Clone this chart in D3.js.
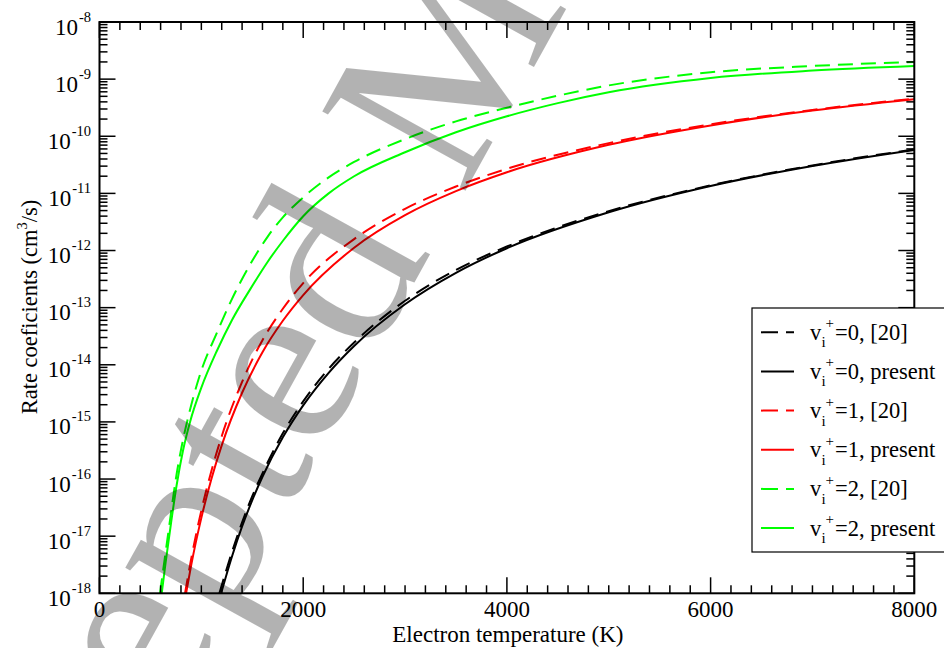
<!DOCTYPE html>
<html><head><meta charset="utf-8">
<script src="https://cdn.jsdelivr.net/npm/d3@7"></script>
<style>
body{margin:0;background:#fff}
svg text{font-family:"Liberation Serif","DejaVu Serif",serif}
</style>
</head><body>
<svg id="chart" width="944" height="648" font-family="Liberation Serif, DejaVu Serif, serif"></svg>
<script>
// ---------- data ----------
const xTickValues = [0, 2000, 4000, 6000, 8000];
const yExponents = [-18, -17, -16, -15, -14, -13, -12, -11, -10, -9, -8];

// v_i+=0  (log10 of rate, cm^3/s)
const tempV0Ref     = [1177, 1300, 1400, 1500, 1600, 1800, 2000, 2250, 2500, 3000, 3500, 4000, 5000, 6000, 7000, 8000];
const logV0Ref      = [-18, -17.28, -16.76, -16.30, -15.90, -15.20, -14.64, -14.07, -13.61, -12.88, -12.34, -11.93, -11.31, -10.86, -10.51, -10.23];
const tempV0Present = [1194, 1300, 1400, 1500, 1600, 1800, 2000, 2250, 2500, 3000, 3500, 4000, 5000, 6000, 7000, 8000];
const logV0Present  = [-18, -17.36, -16.83, -16.37, -15.96, -15.27, -14.71, -14.14, -13.67, -12.94, -12.39, -11.96, -11.33, -10.87, -10.52, -10.24];
// v_i+=1
const tempV1Ref     = [840, 900, 1000, 1100, 1200, 1400, 1600, 1800, 2000, 2500, 3000, 3500, 4000, 5000, 6000, 7000, 8000];
const logV1Ref      = [-18, -17.40, -16.55, -15.85, -15.25, -14.30, -13.57, -13.02, -12.57, -11.80, -11.27, -10.88, -10.57, -10.12, -9.79, -9.54, -9.34];
const tempV1Present = [850, 900, 1000, 1100, 1200, 1400, 1600, 1800, 2000, 2500, 3000, 3500, 4000, 5000, 6000, 7000, 8000];
const logV1Present  = [-18, -17.51, -16.68, -15.99, -15.41, -14.49, -13.78, -13.23, -12.78, -11.95, -11.38, -10.96, -10.63, -10.15, -9.81, -9.55, -9.35];
// v_i+=2
const tempV2Ref     = [594, 640, 690, 745, 810, 880, 1000, 1150, 1300, 1500, 1650, 1800, 2000, 2250, 2500, 3000, 3500, 4000, 4500, 5000, 6000, 7000, 8000];
const logV2Ref      = [-18, -17.40, -16.75, -16.05, -15.40, -14.85, -14.10, -13.45, -12.85, -12.18, -11.76, -11.42, -11.07, -10.72, -10.45, -10.05, -9.74, -9.50, -9.29, -9.11, -8.88, -8.77, -8.70];
const tempV2Present = [611, 650, 700, 758, 820, 889, 1000, 1154, 1300, 1479, 1650, 1805, 2000, 2250, 2500, 3000, 3500, 4000, 4500, 5000, 6000, 7000, 8000];
const logV2Present  = [-18, -17.45, -16.80, -16.10, -15.50, -15.00, -14.40, -13.75, -13.22, -12.68, -12.20, -11.82, -11.40, -11.00, -10.70, -10.28, -9.93, -9.65, -9.42, -9.23, -8.98, -8.85, -8.77];

const legendValues = ["0", "0", "1", "1", "2", "2"];
const legendTails  = ["[20]", "present", "[20]", "present", "[20]", "present"];
const xTitle = "Electron temperature (K)";
const yTitle = "Rate coeficients (cm";
const watermarkText = "Accepted Manuscript";

// ---------- build ----------
const series = [
  {T: tempV0Ref, lk: logV0Ref, color: "#000000", dash: true},
  {T: tempV0Present, lk: logV0Present, color: "#000000", dash: false},
  {T: tempV1Ref, lk: logV1Ref, color: "#ff0000", dash: true},
  {T: tempV1Present, lk: logV1Present, color: "#ff0000", dash: false},
  {T: tempV2Ref, lk: logV2Ref, color: "#00ff00", dash: true},
  {T: tempV2Present, lk: logV2Present, color: "#00ff00", dash: false}
];

const svg = d3.select("#chart");
const L = 99.5, R = 914.3, T0 = 22, B = 593.3;
const x = d3.scaleLinear().domain([0, 8000]).range([L, R]);
const y = d3.scaleLog().domain([1e-18, 1e-8]).range([B, T0]);

svg.append("rect").attr("width", 944).attr("height", 648).attr("fill", "#fff");
svg.append("defs").append("clipPath").attr("id", "clip")
  .append("rect").attr("x", L).attr("y", T0).attr("width", R - L).attr("height", B - T0);

// curves
const line = d3.line().x(d => x(d[0])).y(d => y(d[1])).curve(d3.curveMonotoneX);
const gCurves = svg.append("g").attr("clip-path", "url(#clip)");
series.forEach(s => {
  const pts = s.T.map((t, i) => [t, Math.pow(10, s.lk[i])]);
  gCurves.append("path").attr("d", line(pts)).attr("fill", "none")
    .attr("stroke", s.color).attr("stroke-width", 2)
    .attr("stroke-dasharray", s.dash ? "15,8" : null);
});

// frame
const gAx = svg.append("g").attr("stroke", "#000").attr("fill", "none");
gAx.append("rect").attr("x", L).attr("y", T0).attr("width", R - L).attr("height", B - T0).attr("stroke-width", 2);

// x ticks
d3.range(0, 8001, 200).forEach(v => {
  const len = v % 2000 === 0 ? 16 : 8;
  const px = x(v);
  gAx.append("line").attr("x1", px).attr("x2", px).attr("y1", B).attr("y2", B - len).attr("stroke-width", 1.5);
  gAx.append("line").attr("x1", px).attr("x2", px).attr("y1", T0).attr("y2", T0 + len).attr("stroke-width", 1.5);
});
// y ticks
for (let e = -18; e <= -8; e++) {
  for (let m = 1; m <= 9; m++) {
    if (e === -8 && m > 1) break;
    const py = y(m * Math.pow(10, e));
    const len = m === 1 ? 16 : 8;
    gAx.append("line").attr("x1", L).attr("x2", L + len).attr("y1", py).attr("y2", py).attr("stroke-width", 1.5);
    gAx.append("line").attr("x1", R).attr("x2", R - len).attr("y1", py).attr("y2", py).attr("stroke-width", 1.5);
  }
}

// tick labels
xTickValues.forEach(v => {
  svg.append("text").attr("x", x(v)).attr("y", 617).attr("text-anchor", "middle")
    .attr("font-size", 23).text(v);
});
yExponents.forEach(e => {
  const t = svg.append("text").attr("x", 91).attr("y", y(Math.pow(10, e)) + 12.5)
    .attr("text-anchor", "end").attr("font-size", 23);
  t.append("tspan").text("10");
  t.append("tspan").attr("dy", -13).attr("dx", 1).attr("font-size", 14.5).text(String(e));
});

// axis titles
svg.append("text").attr("x", (L + R) / 2 + 1).attr("y", 641.5).attr("text-anchor", "middle")
  .attr("font-size", 23).text(xTitle);
const yt = svg.append("text").attr("transform", "translate(37,307) rotate(-90)")
  .attr("text-anchor", "middle").attr("font-size", 22.5);
yt.append("tspan").text(yTitle);
yt.append("tspan").attr("dy", -10).attr("font-size", 14.5).text("3");
yt.append("tspan").attr("dy", 10).text("/s)");

// legend
const lg = svg.append("g");
lg.append("rect").attr("x", 752).attr("y", 308).attr("width", 200).attr("height", 244)
  .attr("fill", "#fff").attr("stroke", "#000").attr("stroke-width", 1.2);
series.forEach((s, i) => {
  const cy = 332.3 + i * 39.15;
  lg.append("line").attr("x1", 761).attr("x2", 794).attr("y1", cy).attr("y2", cy)
    .attr("stroke", s.color).attr("stroke-width", 2)
    .attr("stroke-dasharray", s.dash ? "17,8" : null);
  const base = cy + 7.5;
  lg.append("text").attr("x", 810).attr("y", base).attr("font-size", 22.5).text("v");
  lg.append("text").attr("x", 825.5).attr("y", base - 11.5).attr("font-size", 15).text("+");
  lg.append("text").attr("x", 821.5).attr("y", base + 7.5).attr("font-size", 15).text("i");
  lg.append("text").attr("x", 835).attr("y", base).attr("font-size", 22.5)
    .text("=" + legendValues[i] + ", " + legendTails[i]);
});

// watermark
const F = 250, theta = -61;
const wm = svg.append("text").attr("font-size", F).attr("fill", "#000").attr("fill-opacity", 0.3)
  .attr("x", 0).attr("y", 0).text(watermarkText);
const node = wm.node();
const along = node.getSubStringLength(0, 7);   // start of the "d"
const th = theta * Math.PI / 180;
const dOrigin = [371, 361];
const px = dOrigin[0] - along * Math.cos(th);
const py = dOrigin[1] - along * Math.sin(th);
wm.attr("transform", `translate(${px},${py}) rotate(${theta})`);
</script>
</body></html>
